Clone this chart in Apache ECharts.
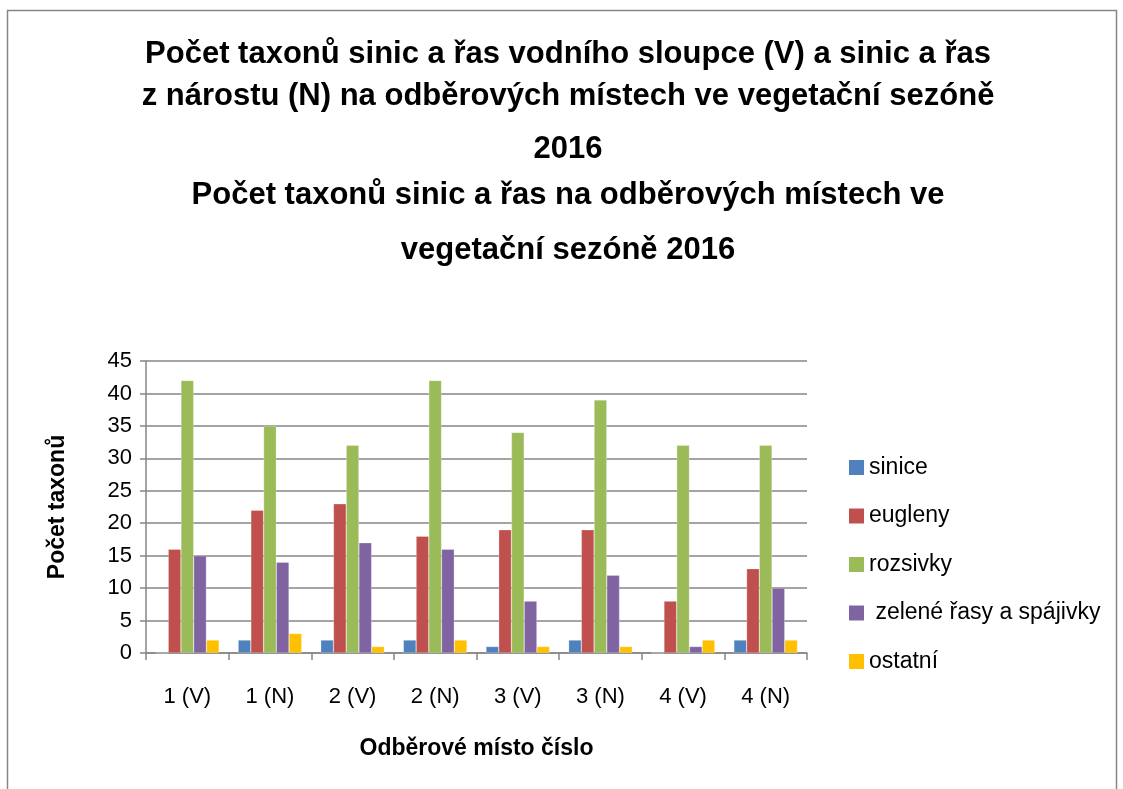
<!DOCTYPE html>
<html>
<head>
<meta charset="utf-8">
<script src="https://cdn.jsdelivr.net/npm/echarts@6/dist/echarts.min.js"></script>
<style>
  html, body { margin: 0; padding: 0; background: #fff; }
  #chart { width: 1123px; height: 789px; }
</style>
</head>
<body>
<div id="chart"></div>
<script>
// data
var mista = ["1 (V)", "1 (N)", "2 (V)", "2 (N)", "3 (V)", "3 (N)", "4 (V)", "4 (N)"];
var sinice = [0, 2, 2, 2, 1, 2, 0, 2];
var eugleny = [16, 22, 23, 18, 19, 19, 8, 13];
var rozsivky = [42, 35, 32, 42, 34, 39, 32, 32];
var zeleneRasy = [15, 14, 17, 16, 8, 12, 1, 10];
var ostatni = [2, 3, 1, 2, 1, 1, 2, 2];
var nazvySkupin = ["sinice", "eugleny", "rozsivky", " zelené řasy a spájivky", "ostatní"];
var barvy = ["#4f81bd", "#c0504d", "#9bbb59", "#8064a2", "#ffc000"];
var radkyNadpisu = [
  "Počet taxonů sinic a řas vodního sloupce (V) a sinic a řas",
  "z nárostu (N) na odběrových místech ve vegetační sezóně",
  "2016",
  "Počet taxonů sinic a řas na odběrových místech ve",
  "vegetační sezóně 2016"
];

var font = "'Liberation Sans', Arial, sans-serif";
var myChart = echarts.init(document.getElementById("chart"));

// each title line placed on its own, the spacing in the original is uneven
var topy = [34, 76, 129, 175, 230];
var titles = radkyNadpisu.map(function (t, i) {
  return {
    text: t,
    left: 563, top: topy[i], textAlign: "center",
    textStyle: { fontFamily: font, fontSize: 31, fontWeight: "bold", color: "#000", lineHeight: 31 }
  };
});

var hodnoty = [sinice, eugleny, rozsivky, zeleneRasy, ostatni];
var series = hodnoty.map(function (d, i) {
  return {
    name: nazvySkupin[i],
    type: "bar",
    data: d,
    barGap: "0%",
    barCategoryGap: "23%",
    itemStyle: { color: barvy[i], borderColor: "rgba(255,255,255,0.5)", borderWidth: 0.5 }
  };
});

var option = {
  backgroundColor: "#fff",
  animation: false,
  title: titles,
  legend: {
    orient: "vertical",
    left: 844, top: 451,
    itemGap: 25.5,
    itemWidth: 15, itemHeight: 15,
    icon: "rect",
    itemStyle: { borderWidth: 0 },
    textStyle: { fontFamily: font, fontSize: 23, lineHeight: 23, color: "#000" },
    data: nazvySkupin
  },
  graphic: [{
    type: "rect",
    shape: { x: 7.5, y: 10.5, width: 1109, height: 800 },
    style: { fill: "none", stroke: "#868686", lineWidth: 1.5 },
    silent: true
  }],
  grid: { left: 146, top: 361, width: 661, height: 292 },
  xAxis: {
    type: "category",
    data: mista,
    name: "Odběrové místo číslo",
    nameLocation: "middle",
    nameGap: 84,
    nameTextStyle: { fontFamily: font, fontSize: 23, fontWeight: "bold", color: "#000" },
    axisLine: { lineStyle: { color: "#868686", width: 1.5 } },
    axisTick: { show: true, length: 7, lineStyle: { color: "#868686", width: 1.5 } },
    axisLabel: { fontFamily: font, fontSize: 22, color: "#000", margin: 33 }
  },
  yAxis: {
    type: "value",
    min: 0, max: 45, interval: 5,
    name: "Počet taxonů",
    nameLocation: "middle",
    nameGap: 77,
    nameRotate: 90,
    nameTextStyle: { fontFamily: font, fontSize: 23, fontWeight: "bold", color: "#000" },
    axisLine: { show: true, lineStyle: { color: "#868686", width: 1.5 } },
    axisTick: { show: true, length: 6, lineStyle: { color: "#868686", width: 1.5 } },
    axisLabel: { fontFamily: font, fontSize: 22, color: "#000", margin: 14 },
    splitLine: { lineStyle: { color: "#868686", width: 1.5 } }
  },
  series: series
};
myChart.setOption(option);
</script>
</body>
</html>
